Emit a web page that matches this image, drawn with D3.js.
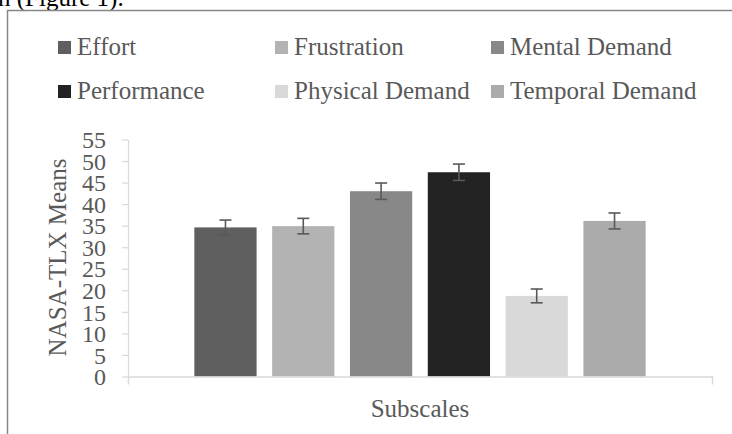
<!DOCTYPE html>
<html>
<head>
<meta charset="utf-8">
<script src="https://cdn.jsdelivr.net/npm/d3@7"></script>
<style>
  body { margin: 0; background: #fff; }
  svg { display: block; font-family: "Liberation Serif", "Times New Roman", serif; }
</style>
</head>
<body>
<div id="chart"></div>
<script>
// Data
const category = 'Subscales';
const subscales = ['Effort', 'Frustration', 'Mental Demand', 'Performance', 'Physical Demand', 'Temporal Demand'];
const means = [34.6, 34.9, 43.0, 47.4, 18.7, 36.1];
const errors = [1.7, 1.8, 1.9, 1.9, 1.6, 1.85];
const colors = ['#5f5f5f', '#b3b3b3', '#888888', '#222222', '#d9d9d9', '#ababab'];
const yTicks = [0, 5, 10, 15, 20, 25, 30, 35, 40, 45, 50, 55];

const width = 732, height = 434;
const plot = { left: 128, right: 712, top: 139.5, bottom: 376.5 };
const textColor = '#595959';
const axisColor = '#d9d9d9';

const svg = d3.select('#chart').append('svg')
    .attr('width', width).attr('height', height);

// bit of document text cut off above the figure
svg.append('text')
    .attr('x', -2).attr('y', 6)
    .style('font-size', '25px')
    .attr('fill', '#000')
    .text('n (Figure 1).');

// frame of the chart object
svg.append('path')
    .attr('d', `M7.5,${height} V10.5 H${width}`)
    .attr('fill', 'none')
    .attr('stroke', '#878787')
    .attr('stroke-width', 1.5);

// scales
const y = d3.scaleLinear([0, 55], [plot.bottom, plot.top]);
const x0 = d3.scaleBand([category], [plot.left, plot.right]).paddingInner(0).paddingOuter(0.147);
const x1 = d3.scaleBand(subscales, [0, x0.bandwidth()]).paddingInner(0.2);

// y axis
const axisY = svg.append('g')
    .attr('transform', `translate(${plot.left},0)`)
    .call(d3.axisLeft(y).tickValues(yTicks).tickSize(6).tickSizeOuter(0).tickPadding(16));
axisY.select('.domain').attr('stroke', axisColor).attr('stroke-width', 1.2);
axisY.selectAll('.tick line').attr('stroke', axisColor).attr('stroke-width', 1.2);
axisY.selectAll('.tick text')
    .attr('fill', textColor)
    .style('font-size', '24px')
    .style('font-family', '"Liberation Serif", serif')
    .attr('dy', '0.34em');

// bars
const group = svg.append('g')
    .attr('transform', `translate(${x0(category)},0)`);

group.selectAll('rect.bar')
    .data(subscales)
    .join('rect')
    .classed('bar', true)
    .attr('x', d => x1(d))
    .attr('width', x1.bandwidth())
    .attr('y', (d, i) => y(means[i]))
    .attr('height', (d, i) => y(0) - y(means[i]))
    .attr('fill', (d, i) => colors[i]);

// error bars
const capHalf = 6;
const err = group.selectAll('g.err')
    .data(subscales)
    .join('g')
    .classed('err', true)
    .attr('stroke', '#595959')
    .attr('stroke-width', 1.6);
err.append('line')
    .attr('x1', d => x1(d) + x1.bandwidth() / 2)
    .attr('x2', d => x1(d) + x1.bandwidth() / 2)
    .attr('y1', (d, i) => y(means[i] + errors[i]))
    .attr('y2', (d, i) => y(means[i] - errors[i]));
err.append('line')
    .attr('x1', d => x1(d) + x1.bandwidth() / 2 - capHalf)
    .attr('x2', d => x1(d) + x1.bandwidth() / 2 + capHalf)
    .attr('y1', (d, i) => y(means[i] + errors[i]))
    .attr('y2', (d, i) => y(means[i] + errors[i]));
err.append('line')
    .attr('x1', d => x1(d) + x1.bandwidth() / 2 - capHalf)
    .attr('x2', d => x1(d) + x1.bandwidth() / 2 + capHalf)
    .attr('y1', (d, i) => y(means[i] - errors[i]))
    .attr('y2', (d, i) => y(means[i] - errors[i]));

// x axis: line with tick marks at the category edges
const xEdge = d3.scaleLinear([0, 1], [plot.left, plot.right]);
const axisX = svg.append('g')
    .attr('transform', `translate(0,${plot.bottom})`)
    .call(d3.axisBottom(xEdge).tickValues([0, 1]).tickSize(8).tickSizeOuter(0).tickFormat(''));
axisX.select('.domain').attr('stroke', axisColor).attr('stroke-width', 1.5);
axisX.selectAll('.tick line').attr('stroke', axisColor).attr('stroke-width', 1.5);

// axis titles
svg.append('text')
    .attr('x', (plot.left + plot.right) / 2).attr('y', 417)
    .attr('text-anchor', 'middle')
    .attr('fill', textColor)
    .style('font-size', '25px')
    .text(category);

svg.append('text')
    .attr('transform', `translate(66,257.5) rotate(-90)`)
    .attr('text-anchor', 'middle')
    .attr('fill', textColor)
    .style('font-size', '25px')
    .text('NASA-TLX Means');

// legend, 3 columns x 2 rows
const legendX = [58, 275, 491], legendY = [41, 85];
const legend = svg.selectAll('g.legend')
    .data(subscales)
    .join('g')
    .classed('legend', true)
    .attr('transform', (d, i) => `translate(${legendX[i % 3]},${legendY[Math.floor(i / 3)]})`);
legend.append('rect')
    .attr('width', 13).attr('height', 13)
    .attr('fill', (d, i) => colors[i]);
legend.append('text')
    .attr('x', 19).attr('y', 14)
    .attr('fill', textColor)
    .style('font-size', '25px')
    .text(d => d);
</script>
</body>
</html>
